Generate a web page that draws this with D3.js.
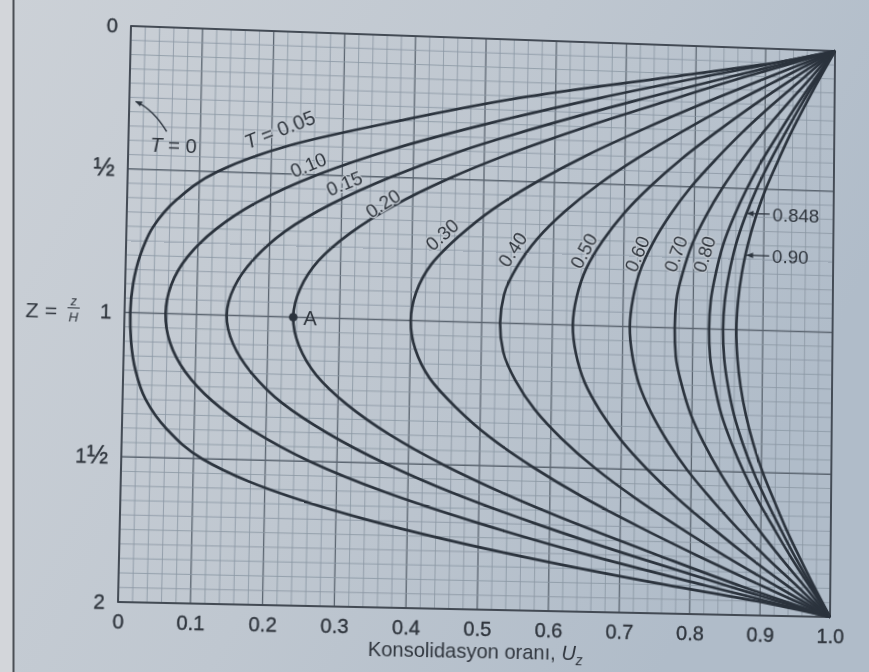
<!DOCTYPE html>
<html>
<head>
<meta charset="utf-8">
<script src="https://cdn.jsdelivr.net/npm/d3@7"></script>
<style>
  html, body { margin: 0; padding: 0; background: #c6ccd4; overflow: hidden; }
  #chart { position: relative; width: 869px; height: 672px; overflow: hidden; }
  svg { display: block; font-family: "Liberation Sans", Arial, sans-serif; }
  #paperBg { position: absolute; left: 0; top: 0; }
  #plot { position: absolute; left: 0; top: 0; transform-origin: 0 0; }
</style>
</head>
<body>
<div id="chart"></div>
<script>
// depth factor Z = z/H where the isochrones were read
var depths = [0, 0.05, 0.1, 0.2, 0.3, 0.4, 0.5, 0.6, 0.7, 0.8, 0.9, 1.0,
  1.1, 1.2, 1.3, 1.4, 1.5, 1.6, 1.7, 1.8, 1.9, 1.95, 2.0];

// degree of consolidation U_z for each time factor T
var timeFactors = ["0.05", "0.10", "0.15", "0.20", "0.30", "0.40", "0.50", "0.60", "0.70", "0.80", "0.848", "0.90"];
var uT005 = [1.000, 0.912, 0.795, 0.560, 0.380, 0.225, 0.125, 0.070, 0.037, 0.020, 0.011, 0.008, 0.010, 0.017, 0.032, 0.062, 0.112, 0.206, 0.348, 0.535, 0.765, 0.895, 1.000];
var uT010 = [1.000, 0.915, 0.826, 0.657, 0.505, 0.372, 0.265, 0.183, 0.125, 0.086, 0.064, 0.057, 0.064, 0.086, 0.125, 0.183, 0.262, 0.368, 0.500, 0.652, 0.823, 0.911, 1.000];
var uT015 = [1.000, 0.929, 0.857, 0.716, 0.585, 0.467, 0.368, 0.286, 0.222, 0.179, 0.152, 0.142, 0.152, 0.179, 0.222, 0.286, 0.367, 0.466, 0.584, 0.715, 0.855, 0.927, 1.000];
var uT020 = [1.000, 0.938, 0.875, 0.758, 0.644, 0.540, 0.449, 0.373, 0.313, 0.269, 0.244, 0.235, 0.244, 0.269, 0.313, 0.373, 0.449, 0.540, 0.644, 0.757, 0.874, 0.937, 1.000];
var uT030 = [1.000, 0.953, 0.906, 0.814, 0.727, 0.646, 0.575, 0.514, 0.466, 0.428, 0.407, 0.400, 0.407, 0.428, 0.466, 0.514, 0.575, 0.646, 0.727, 0.814, 0.906, 0.953, 1.000];
var uT040 = [1.000, 0.963, 0.926, 0.853, 0.785, 0.721, 0.664, 0.616, 0.577, 0.549, 0.531, 0.526, 0.531, 0.549, 0.577, 0.616, 0.664, 0.721, 0.785, 0.853, 0.926, 0.963, 1.000];
var uT050 = [1.000, 0.971, 0.942, 0.885, 0.832, 0.782, 0.738, 0.700, 0.670, 0.647, 0.634, 0.629, 0.634, 0.647, 0.670, 0.700, 0.738, 0.782, 0.832, 0.885, 0.942, 0.971, 1.000];
var uT060 = [1.000, 0.977, 0.955, 0.910, 0.868, 0.830, 0.795, 0.766, 0.742, 0.724, 0.714, 0.710, 0.714, 0.724, 0.742, 0.766, 0.795, 0.830, 0.868, 0.910, 0.955, 0.977, 1.000];
var uT070 = [1.000, 0.982, 0.965, 0.930, 0.897, 0.867, 0.840, 0.817, 0.798, 0.785, 0.776, 0.774, 0.776, 0.785, 0.798, 0.817, 0.840, 0.867, 0.897, 0.930, 0.965, 0.982, 1.000];
var uT080 = [1.000, 0.986, 0.972, 0.945, 0.920, 0.896, 0.875, 0.857, 0.842, 0.832, 0.825, 0.823, 0.825, 0.832, 0.842, 0.857, 0.875, 0.896, 0.920, 0.945, 0.972, 0.986, 1.000];
var uT0848 = [1.000, 0.988, 0.975, 0.951, 0.929, 0.908, 0.889, 0.873, 0.860, 0.851, 0.845, 0.843, 0.845, 0.851, 0.860, 0.873, 0.889, 0.908, 0.929, 0.951, 0.975, 0.988, 1.000];
var uT090 = [1.000, 0.989, 0.978, 0.957, 0.937, 0.919, 0.902, 0.888, 0.877, 0.869, 0.864, 0.862, 0.864, 0.869, 0.877, 0.888, 0.902, 0.919, 0.937, 0.957, 0.978, 0.989, 1.000];
var isochrones = [uT005, uT010, uT015, uT020, uT030, uT040, uT050, uT060, uT070, uT080, uT0848, uT090];

// point A on the T = 0.20 curve
var pointA = { u: 0.235, z: 1.0 };

// tick labels
var xTickValues = [0, 0.1, 0.2, 0.3, 0.4, 0.5, 0.6, 0.7, 0.8, 0.9, 1.0];
var xTickLabels = ["0", "0.1", "0.2", "0.3", "0.4", "0.5", "0.6", "0.7", "0.8", "0.9", "1.0"];
var yTickValues = [0, 0.5, 1, 1.5, 2];
var yTickLabels = ["0", "\u00BD", "1", "1\u00BD", "2"];

var width = 869;
var height = 672;
var plotW = 708;
var plotH = 571;
var margin = { left: 130, top: 40 };
var ink = "#2b333d";
var textInk = "#2f353d";
var paper = "#c2c9d1";

// where the plot corners sit in the photo (TL, TR, BR, BL)
var corners = [[131, 26], [835, 51], [830, 617], [118, 602]];

var chart = d3.select("#chart");

// ---- paper background ----
var bg = chart.append("svg")
  .attr("id", "paperBg")
  .attr("width", width)
  .attr("height", height);
var grad = bg.append("defs").append("linearGradient")
  .attr("id", "paper")
  .attr("x1", 0).attr("y1", 0)
  .attr("x2", 1).attr("y2", 0.4);
grad.append("stop").attr("offset", 0).attr("stop-color", "#ccd1d7");
grad.append("stop").attr("offset", 0.55).attr("stop-color", "#bfc7d0");
grad.append("stop").attr("offset", 1).attr("stop-color", "#b0bcc9");
bg.append("rect")
  .attr("width", width)
  .attr("height", height)
  .attr("fill", "url(#paper)");
bg.append("rect")
  .attr("width", 13).attr("height", height)
  .attr("fill", "#d3d6da");
bg.append("line")
  .attr("x1", 13.5).attr("x2", 13.5)
  .attr("y1", 0).attr("y2", height)
  .attr("stroke", "#4b4f55")
  .attr("stroke-width", 2);

// ---- perspective of the photo: unit square -> corner quad ----
var homography = function () {
  var x0 = corners[0][0], y0 = corners[0][1];
  var x1 = corners[1][0], y1 = corners[1][1];
  var x2 = corners[2][0], y2 = corners[2][1];
  var x3 = corners[3][0], y3 = corners[3][1];
  var dx1 = x1 - x2, dx2 = x3 - x2, dx3 = x0 - x1 + x2 - x3;
  var dy1 = y1 - y2, dy2 = y3 - y2, dy3 = y0 - y1 + y2 - y3;
  var det = dx1 * dy2 - dx2 * dy1;
  var g = (dx3 * dy2 - dx2 * dy3) / det;
  var h = (dx1 * dy3 - dx3 * dy1) / det;
  var A = (x1 - x0 + g * x1) / plotW, B = (x3 - x0 + h * x3) / plotH, C = x0;
  var D = (y1 - y0 + g * y1) / plotW, E = (y3 - y0 + h * y3) / plotH, F = y0;
  var G = g / plotW, H = h / plotH;
  // shift so the element origin is the svg corner, not the plot corner
  var C2 = C - A * margin.left - B * margin.top;
  var F2 = F - D * margin.left - E * margin.top;
  var W2 = 1 - G * margin.left - H * margin.top;
  return "matrix3d(" + [A, D, 0, G, B, E, 0, H, 0, 0, 1, 0, C2, F2, 0, W2].join(",") + ")";
};

var svg = chart.append("svg")
  .attr("id", "plot")
  .attr("width", plotW + margin.left + 60)
  .attr("height", plotH + margin.top + 80)
  .style("transform", homography());

var g = svg.append("g")
  .attr("transform", "translate(" + margin.left + "," + margin.top + ")");

var defs = svg.append("defs");
defs.append("marker")
  .attr("id", "head")
  .attr("viewBox", "0 0 10 10")
  .attr("refX", 9).attr("refY", 5)
  .attr("markerWidth", 7).attr("markerHeight", 7)
  .attr("markerUnits", "userSpaceOnUse")
  .attr("orient", "auto")
  .append("path")
  .attr("d", "M0,1 L10,5 L0,9 Z")
  .attr("fill", ink);

var x = d3.scaleLinear().domain([0, 1]).range([0, plotW]);
var y = d3.scaleLinear().domain([0, 2]).range([0, plotH]);

// grid
var grid = g.append("g");
grid.selectAll("line.v")
  .data(d3.range(0, 51))
  .enter()
  .append("line")
  .attr("class", "v")
  .attr("x1", function (d) { return x(d * 0.02); })
  .attr("x2", function (d) { return x(d * 0.02); })
  .attr("y1", 0)
  .attr("y2", plotH)
  .attr("stroke", function (d) { return d % 5 === 0 ? "#5b6570" : "#8995a2"; })
  .attr("stroke-width", function (d) { return d % 5 === 0 ? 1.3 : 0.8; });
grid.selectAll("line.h")
  .data(d3.range(0, 41))
  .enter()
  .append("line")
  .attr("class", "h")
  .attr("x1", 0)
  .attr("x2", plotW)
  .attr("y1", function (d) { return y(d * 0.05); })
  .attr("y2", function (d) { return y(d * 0.05); })
  .attr("stroke", function (d) { return d % 10 === 0 ? "#5b6570" : "#8995a2"; })
  .attr("stroke-width", function (d) { return d % 10 === 0 ? 1.3 : 0.8; });

g.append("rect")
  .attr("width", plotW)
  .attr("height", plotH)
  .attr("fill", "none")
  .attr("stroke", "#3b424c")
  .attr("stroke-width", 1.7);

// axes
var xAxis = d3.axisBottom(x)
  .tickValues(xTickValues)
  .tickFormat(function (d, i) { return xTickLabels[i]; })
  .tickSize(0)
  .tickPadding(12);
var gx = g.append("g")
  .attr("transform", "translate(0," + plotH + ")")
  .call(xAxis);
gx.select(".domain").remove();
gx.selectAll("text")
  .attr("font-size", 20)
  .attr("font-family", "Liberation Sans, Arial, sans-serif")
  .attr("fill", textInk)
  .attr("stroke", textInk)
  .attr("stroke-width", 0.35);

var yAxis = d3.axisLeft(y)
  .tickValues(yTickValues)
  .tickFormat(function (d, i) { return yTickLabels[i]; })
  .tickSize(0)
  .tickPadding(13);
var gy = g.append("g").call(yAxis);
gy.select(".domain").remove();
gy.selectAll("text")
  .attr("font-size", 20)
  .attr("font-family", "Liberation Sans, Arial, sans-serif")
  .attr("fill", textInk)
  .attr("stroke", textInk)
  .attr("stroke-width", 0.35)
  .each(function (d, i) {
    var label = yTickLabels[i];
    if (label.indexOf("\u00BD") < 0) return;
    var t = d3.select(this).text(null);
    if (label.length > 1) t.append("tspan").text(label.slice(0, -1));
    t.append("tspan").attr("font-size", 25).text("\u00BD");
  });

// isochrones
var line = d3.line()
  .x(function (d) { return x(d[0]); })
  .y(function (d) { return y(d[1]); })
  .curve(d3.curveMonotoneY);

g.append("g")
  .selectAll("path")
  .data(isochrones)
  .enter()
  .append("path")
  .attr("d", function (vals) {
    return line(vals.map(function (v, i) { return [v, depths[i]]; }));
  })
  .attr("fill", "none")
  .attr("stroke", ink)
  .attr("stroke-width", 2.7)
  .attr("stroke-linejoin", "round");

// curve labels (placement in chart units, angle in degrees)
var curveLabels = [
  { text: "0.10", u: 0.252, z: 0.466, angle: -24 },
  { text: "0.15", u: 0.303, z: 0.527, angle: -24 },
  { text: "0.20", u: 0.358, z: 0.593, angle: -34 },
  { text: "0.30", u: 0.442, z: 0.696, angle: -43 },
  { text: "0.40", u: 0.542, z: 0.741, angle: -58 },
  { text: "0.50", u: 0.643, z: 0.738, angle: -63 },
  { text: "0.60", u: 0.719, z: 0.743, angle: -68 },
  { text: "0.70", u: 0.774, z: 0.739, angle: -71 },
  { text: "0.80", u: 0.815, z: 0.737, angle: -73 }
];

g.append("g")
  .selectAll("text")
  .data(curveLabels)
  .enter()
  .append("text")
  .attr("transform", function (d) {
    return "translate(" + x(d.u) + "," + y(d.z) + ") rotate(" + d.angle + ")";
  })
  .attr("text-anchor", "middle")
  .attr("dy", "0.35em")
  .attr("font-size", 19)
  .attr("fill", textInk)
  .attr("stroke", paper)
  .attr("stroke-width", 2.5)
  .attr("paint-order", "stroke")
  .text(function (d) { return d.text; });

// T = 0.05
var t05 = g.append("text")
  .attr("transform", "translate(" + x(0.211) + "," + y(0.345) + ") rotate(-23)")
  .attr("text-anchor", "middle")
  .attr("dy", "0.35em")
  .attr("font-size", 20)
  .attr("fill", textInk)
  .attr("stroke", paper)
  .attr("stroke-width", 2.5)
  .attr("paint-order", "stroke");
t05.append("tspan").attr("font-style", "italic").text("T");
t05.append("tspan").text(" = 0.05");

// T = 0 with arrow to the left edge
var t0 = g.append("text")
  .attr("x", x(0.063))
  .attr("y", y(0.414))
  .attr("text-anchor", "middle")
  .attr("dy", "0.35em")
  .attr("font-size", 20)
  .attr("fill", textInk);
t0.append("tspan").attr("font-style", "italic").text("T");
t0.append("tspan").text(" = 0");

g.append("path")
  .attr("d", "M" + x(0.053) + "," + y(0.366) +
    " Q" + x(0.034) + "," + y(0.29) + " " + x(0.009) + "," + y(0.264))
  .attr("fill", "none")
  .attr("stroke", ink)
  .attr("stroke-width", 1.4)
  .attr("marker-end", "url(#head)");

// leader arrows for 0.848 and 0.90
var leaders = [
  { text: "0.848", tip: 0.876, tail: 0.908, z: 0.588 },
  { text: "0.90", tip: 0.876, tail: 0.908, z: 0.736 }
];
var lg = g.append("g")
  .selectAll("g")
  .data(leaders)
  .enter()
  .append("g");
lg.append("line")
  .attr("x1", function (d) { return x(d.tail); })
  .attr("x2", function (d) { return x(d.tip); })
  .attr("y1", function (d) { return y(d.z); })
  .attr("y2", function (d) { return y(d.z); })
  .attr("stroke", ink)
  .attr("stroke-width", 1.3)
  .attr("marker-end", "url(#head)");
lg.append("text")
  .attr("x", function (d) { return x(d.tail) + 3; })
  .attr("y", function (d) { return y(d.z); })
  .attr("dy", "0.35em")
  .attr("font-size", 19)
  .attr("fill", textInk)
  .text(function (d) { return d.text; });

// point A
g.append("circle")
  .attr("cx", x(pointA.u))
  .attr("cy", y(pointA.z))
  .attr("r", 4.3)
  .attr("fill", ink);
g.append("text")
  .attr("x", x(pointA.u) + 10)
  .attr("y", y(pointA.z))
  .attr("dy", "0.36em")
  .attr("font-size", 20)
  .attr("fill", textInk)
  .text("A");

// Z = z/H
var zl = g.append("g")
  .attr("transform", "translate(-97," + y(1) + ")")
  .attr("fill", textInk);
zl.append("text")
  .attr("x", 0)
  .attr("dy", "0.35em")
  .attr("font-size", 21)
  .text("Z =");
zl.append("text")
  .attr("x", 47)
  .attr("y", -6)
  .attr("text-anchor", "middle")
  .attr("font-size", 12)
  .attr("font-style", "italic")
  .text("z");
zl.append("line")
  .attr("x1", 41).attr("x2", 53)
  .attr("y1", -3).attr("y2", -3)
  .attr("stroke", textInk)
  .attr("stroke-width", 1);
zl.append("text")
  .attr("x", 47)
  .attr("y", 10)
  .attr("text-anchor", "middle")
  .attr("font-size", 13)
  .attr("font-style", "italic")
  .text("H");

// x title
var title = g.append("text")
  .attr("x", 353)
  .attr("y", plotH + 48)
  .attr("text-anchor", "middle")
  .attr("font-size", 20)
  .attr("fill", textInk);
title.append("tspan").text("Konsolidasyon oran\u0131, ");
title.append("tspan").attr("font-style", "italic").text("U");
title.append("tspan")
  .attr("font-style", "italic")
  .attr("font-size", 14)
  .attr("dy", 5)
  .text("z");
</script>
</body>
</html>
